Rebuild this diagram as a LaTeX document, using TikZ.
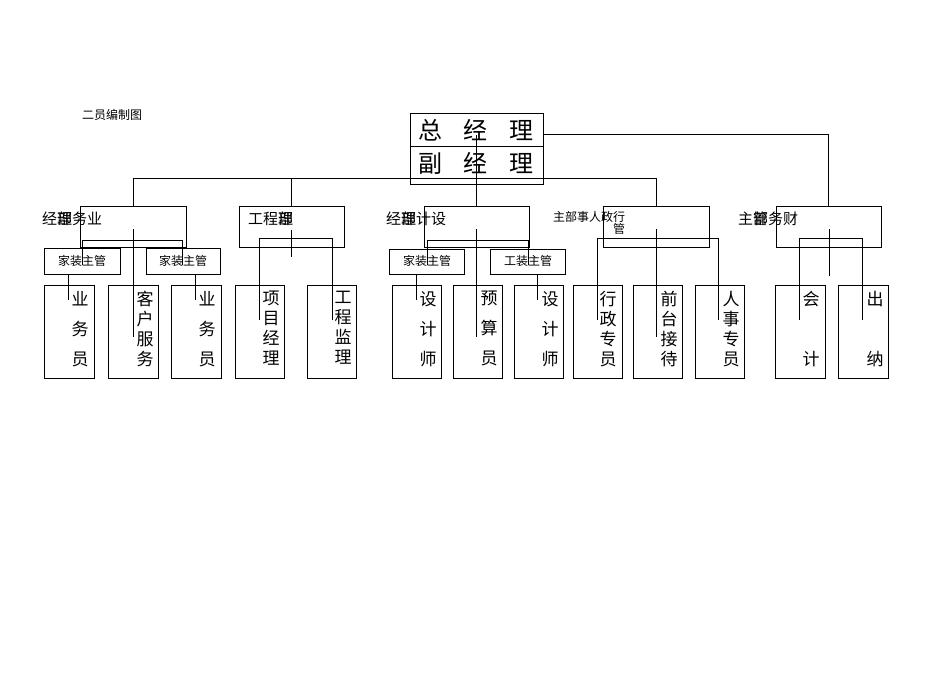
\documentclass[tikz,border=0pt]{standalone}
\usepackage{fontspec}
\newfontfamily\cjk{Noto Sans CJK SC}
\begin{document}
\begin{tikzpicture}[x=1pt,y=-1pt,
 bx/.style={draw,line width=0.6pt},
 ln/.style={line width=0.6pt},
 tx/.style={font=\cjk\fontsize{15}{15}\selectfont,inner sep=0,anchor=west},
 sm/.style={font=\cjk\fontsize{12}{12}\selectfont,inner sep=0,anchor=west},
 vt/.style={font=\cjk\fontsize{17}{30}\selectfont,inner sep=0,align=center,anchor=north},
 vt4/.style={font=\cjk\fontsize{17}{20}\selectfont,inner sep=0,align=center,anchor=north}]
\useasboundingbox (0,0) rectangle (950,672);
\node[sm] (title) at (82,115) {二员编制图};
% top
\draw[bx] (410,113) rectangle (543,184);
\draw[ln] (410,146) -- (543,146);
\node[font=\cjk\fontsize{24}{24}\selectfont,inner sep=0] (gm) at (476,130) {总\hspace{22pt}经\hspace{22pt}理};
\node[font=\cjk\fontsize{24}{24}\selectfont,inner sep=0] (dgm) at (476,163) {副\hspace{22pt}经\hspace{22pt}理};
\draw[ln] (133,178) -- (656,178);
\draw[ln] (133,178) -- (133,206);
\draw[ln] (291,178) -- (291,206);
\draw[ln] (656,178) -- (656,206);
\draw[ln] (476,135) -- (476,206);
\draw[ln] (543,134) -- (828,134) -- (828,206);
% dept boxes
\draw[bx] (80,206) rectangle (186,247);
\draw[bx] (239,206) rectangle (344,247);
\draw[bx] (424,206) rectangle (529,247);
\draw[bx] (603,206) rectangle (709,247);
\draw[bx] (776,206) rectangle (881,247);
\node[tx] (d1) at (42,219) {经\rlap{部}理务业};
\node[tx] (d2) at (248,219) {工程\rlap{部}理};
\node[tx] (d3) at (386,219) {经\rlap{部}理计设};
\node[sm] (d4) at (553,217) {主部事人政行};
\node[sm] (d4b) at (613,229) {管};
\node[tx] (d5) at (738,219) {主\rlap{管}部务财};
% sub supervisors
\draw[bx] (44,248) rectangle (120,274); \node[sm] (s1) at (82,261) [anchor=center] {家装主管};
\draw[bx] (146,248) rectangle (220,274); \node[sm] (s2) at (183,261) [anchor=center] {家装主管};
\draw[bx] (389,249) rectangle (464,274); \node[sm] (s3) at (427,261) [anchor=center] {家装主管};
\draw[bx] (490,249) rectangle (565,274); \node[sm] (s4) at (528,261) [anchor=center] {工装主管};
% brackets
\draw[ln] (82,265) -- (82,240) -- (182,240) -- (182,265);
\draw[ln] (133,229) -- (133,337);
\draw[ln] (68,274) -- (68,300);
\draw[ln] (195,274) -- (195,300);
\draw[ln] (291,230) -- (291,257);
\draw[ln] (259,320) -- (259,238) -- (332,238) -- (332,320);
\draw[ln] (427,265) -- (427,240) -- (528,240) -- (528,265);
\draw[ln] (476,229) -- (476,337);
\draw[ln] (416,274) -- (416,300);
\draw[ln] (537,274) -- (537,300);
\draw[ln] (597,320) -- (597,238) -- (718,238) -- (718,320);
\draw[ln] (656,229) -- (656,337);
\draw[ln] (799,320) -- (799,238) -- (862,238) -- (862,320);
\draw[ln] (829,229) -- (829,276);
% bottom boxes
\foreach \a/\b in {44/94,108/158,171/221,235/284,307/356,392/441,453/502,514/563,573/622,633/682,695/744,775/825,838/888}
  \draw[bx] (\a,285) rectangle (\b,378);
\node[vt] (b1) at (80,291) {业\\务\\员};
\node[vt4] (b2) at (145,291) {客\\户\\服\\务};
\node[vt] (b3) at (207,291) {业\\务\\员};
\node[vt4] (b4) at (271,291) {项\\目\\经\\理};
\node[vt4] (b5) at (343,291) {工\\程\\监\\理};
\node[vt] (b6) at (428,291) {设\\计\\师};
\node[vt] (b7) at (489,291) {预\\算\\员};
\node[vt] (b8) at (550,291) {设\\计\\师};
\node[vt4] (b9) at (608,291) {行\\政\\专\\员};
\node[vt4] (b10) at (669,291) {前\\台\\接\\待};
\node[vt4] (b11) at (731,291) {人\\事\\专\\员};
\node[vt] (b12) at (811,291) {会\\\\计};
\node[vt] (b13) at (875,291) {出\\\\纳};
\end{tikzpicture}
\end{document}
